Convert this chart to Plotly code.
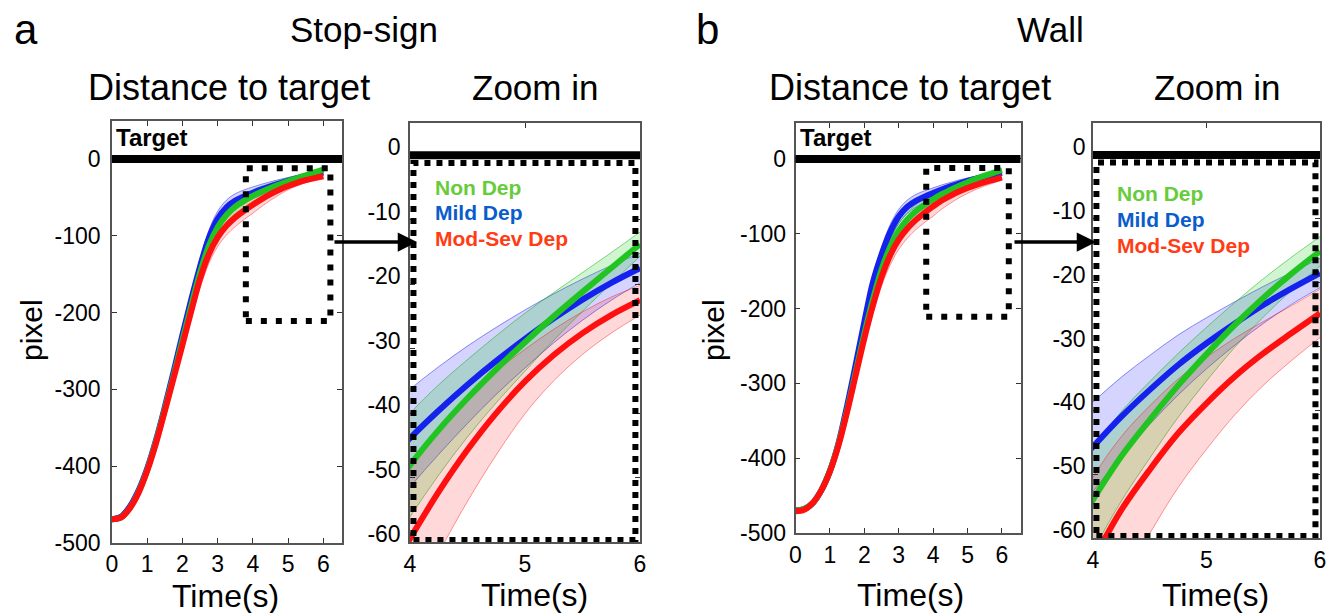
import plotly.graph_objects as go

W, H = 1326, 613
FONT = "Liberation Sans, Arial, sans-serif"

# ---------------- data ----------------
t = [0, 0.25, 0.5, 0.75, 1.0, 1.25, 1.5, 1.75, 2.0, 2.25, 2.5, 2.75, 3.0,
     3.25, 3.5, 3.75, 4.0, 4.25, 4.5, 4.75, 5.0, 5.25, 5.5, 5.75, 6.0]

# Panel a: Stop-sign (mean distance, pixel)
green_a = [-469, -467, -455, -434, -405, -368, -326, -282, -236, -191, -148, -113, -89,
           -73, -62, -54.5, -48.1, -42.6, -37.7, -33.2, -29.0, -25.0, -21.2, -17.5, -13.8]
blue_a = [-469, -466, -453, -432, -403, -366, -323, -277, -229, -183, -140, -103, -78,
          -63, -54.2, -48.7, -43.9, -39.6, -35.6, -31.9, -28.5, -25.3, -22.4, -19.8, -17.5]
red_a = [-469, -467, -455, -435, -406, -370, -328, -285, -242, -198, -156, -124, -102,
         -87, -76, -67.3, -59.5, -52.2, -45.7, -40.0, -35.1, -31.0, -27.6, -24.8, -22.5]
green_a_err = [3, 3, 4, 5, 6, 7, 8, 9, 10, 10, 10, 10, 10, 9.5, 9, 8.5, 8, 7, 6, 5.2, 4.5, 3.7, 3, 2.4, 1.9]
blue_a_err = [3, 3, 4, 5, 6, 7, 8, 9, 10, 10, 10, 10, 10, 9.5, 9, 8.5, 7.6, 6.8, 6, 5.2, 4.5, 3.8, 3.2, 2.7, 2.3]
red_a_err = [3, 3, 4, 5, 6, 7, 8, 9, 10, 11, 12, 12, 12, 12, 12, 11.5, 11, 9.5, 8, 6.5, 5, 4, 3.3, 2.8, 2.3]

# Panel b: Wall
green_b = [-470, -468, -460, -443, -417, -381, -336, -285, -234, -188, -148, -118, -96,
           -81, -70, -61.5, -54, -47.2, -41.5, -36.1, -31.2, -26.6, -22.4, -18.6, -15.1]
blue_b = [-470, -468, -460, -443, -417, -380, -330, -275, -218, -165, -128, -98, -77,
          -64, -56, -50.5, -45.7, -41, -36.8, -32.9, -29.5, -26.4, -23.5, -20.9, -18.5]
red_b = [-471, -469, -460, -443, -418, -383, -338, -289, -240, -196, -158, -129, -108,
         -93, -81.5, -72, -63.5, -55.6, -49.3, -43.6, -38.9, -34.7, -31.1, -27.9, -24.8]
green_b_err = [3, 3, 4, 5, 6, 7, 8, 9, 10, 10, 10, 10, 10, 9.5, 9, 8.5, 8, 7, 6, 5, 4.2, 3.5, 3, 2.6, 2.3]
blue_b_err = [3, 3, 4, 5, 6, 7, 8, 9, 10, 10, 10, 10, 9.5, 9, 8.5, 7.8, 7, 6.2, 5.4, 4.7, 4, 3.4, 2.9, 2.5, 2.3]
red_b_err = [3, 3, 4, 5, 6, 7, 8, 9, 10, 11, 12, 13, 13, 13, 13, 13, 13, 11.5, 10, 8.5, 7.2, 6, 5, 4.3, 3.8]

groups = ["Non Dep", "Mild Dep", "Mod-Sev Dep"]
main_yticks = [-500, -400, -300, -200, -100, 0]
main_ylabels = ["-500", "-400", "-300", "-200", "-100", "0"]
main_xticks = [0, 1, 2, 3, 4, 5, 6]
zoom_yticks = [-60, -50, -40, -30, -20, -10, 0]
zoom_ylabels = ["-60", "-50", "-40", "-30", "-20", "-10", "0"]
zoom_xticks = [4, 5, 6]
target = 0
zoom_box_main = (3.8, 6.2, -211, -12)   # x0, x1, y0, y1 of dotted frame on overview
zoom_box_zoom = (4.03, 5.96, -59.7, -1.2)

line_colors = ["#22c422", "#1522ee", "#ff1010"]
fill_colors = ["rgba(0,200,0,0.18)", "rgba(0,0,255,0.17)", "rgba(255,0,0,0.15)"]
edge_colors = ["rgba(0,170,0,0.6)", "rgba(0,0,230,0.55)", "rgba(255,0,0,0.5)"]
label_colors = ["#66cc3a", "#0a5ccc", "#ff3c14"]


def px_x(p):
    return p / W


def px_y(p):
    return 1 - p / H


fig = go.Figure()

panels = [
    ("x", "y", [green_a, blue_a, red_a], [green_a_err, blue_a_err, red_a_err], 6),
    ("x2", "y2", [green_a, blue_a, red_a], [green_a_err, blue_a_err, red_a_err], 6),
    ("x3", "y3", [green_b, blue_b, red_b], [green_b_err, blue_b_err, red_b_err], 6),
    ("x4", "y4", [green_b, blue_b, red_b], [green_b_err, blue_b_err, red_b_err], 6),
]

draw_order = [1, 0, 2]  # blue, green, red
for xa, ya, means, errs, lw in panels:
    for gi in draw_order:
        m, e = means[gi], errs[gi]
        lo = [a - b for a, b in zip(m, e)]
        hi = [a + b for a, b in zip(m, e)]
        fig.add_trace(go.Scatter(x=t, y=lo, xaxis=xa, yaxis=ya, mode="lines",
                                 line=dict(color=edge_colors[gi], width=0.8, shape="spline"),
                                 showlegend=False, hoverinfo="skip"))
        fig.add_trace(go.Scatter(x=t, y=hi, xaxis=xa, yaxis=ya, mode="lines",
                                 line=dict(color=edge_colors[gi], width=0.8, shape="spline"),
                                 fill="tonexty", fillcolor=fill_colors[gi],
                                 showlegend=False, hoverinfo="skip"))
    for gi in draw_order:
        fig.add_trace(go.Scatter(x=t, y=means[gi], xaxis=xa, yaxis=ya, mode="lines",
                                 name=groups[gi],
                                 line=dict(color=line_colors[gi], width=lw, shape="spline"),
                                 showlegend=False))

axis_common = dict(showline=True, linecolor="#555555", linewidth=1.5, mirror="ticks",
                   ticks="inside", ticklen=5, tickcolor="#333333", tickwidth=1,
                   showgrid=False, zeroline=False, automargin=False,
                   ticklabeloverflow="allow",
                   tickfont=dict(family=FONT, size=23, color="black"))

domains = {
    "a_main": ((112, 342), (121, 543)),
    "a_zoom": ((410, 640), (123, 542)),
    "b_main": ((795.5, 1020.5), (123, 533)),
    "b_zoom": ((1093, 1320), (123, 538)),
}


def xdom(k):
    (x0, x1), _ = domains[k]
    return [px_x(x0), px_x(x1)]


def ydom(k):
    _, (y0, y1) = domains[k]
    return [px_y(y1), px_y(y0)]


layout = dict(
    width=W, height=H, margin=dict(l=0, r=0, t=0, b=0, pad=0, autoexpand=False),
    paper_bgcolor="white", plot_bgcolor="white", showlegend=False,
    xaxis=dict(domain=xdom("a_main"), range=[0, 6.53], anchor="y",
               tickvals=main_xticks, ticklabelstandoff=0, **axis_common),
    yaxis=dict(domain=ydom("a_main"), range=[-500, 49.5], anchor="x",
               tickvals=main_yticks, ticktext=main_ylabels, ticklabelstandoff=5, **axis_common),
    xaxis2=dict(domain=xdom("a_zoom"), range=[4, 6], anchor="y2",
                tickvals=zoom_xticks, ticklabelstandoff=1, **axis_common),
    yaxis2=dict(domain=ydom("a_zoom"), range=[-60, 5], anchor="x2",
                tickvals=zoom_yticks, ticktext=zoom_ylabels, ticklabelstandoff=3,
                ticklabelshift=-8, **axis_common),
    xaxis3=dict(domain=xdom("b_main"), range=[0, 6.54], anchor="y3",
                tickvals=main_xticks, ticklabelstandoff=1, **axis_common),
    yaxis3=dict(domain=ydom("b_main"), range=[-500, 48], anchor="x3",
                tickvals=main_yticks, ticktext=main_ylabels, ticklabelstandoff=3, **axis_common),
    xaxis4=dict(domain=xdom("b_zoom"), range=[4, 6], anchor="y4",
                tickvals=zoom_xticks, ticklabelstandoff=1, **axis_common),
    yaxis4=dict(domain=ydom("b_zoom"), range=[-60, 5], anchor="x4",
                tickvals=zoom_yticks, ticktext=zoom_ylabels, ticklabelstandoff=1,
                ticklabelshift=-8, **axis_common),
)
fig.update_layout(**layout)

shapes = []
for xa, ya in [("x", "y"), ("x2", "y2"), ("x3", "y3"), ("x4", "y4")]:
    shapes.append(dict(type="line", xref=f"{xa} domain", yref=ya, x0=0, x1=1,
                       y0=target, y1=target, line=dict(color="black", width=8), layer="above"))
for xa, ya in [("x", "y"), ("x3", "y3")]:
    x0, x1, y0, y1 = zoom_box_main
    shapes.append(dict(type="rect", xref=xa, yref=ya, x0=x0, x1=x1, y0=y0, y1=y1,
                       line=dict(color="black", width=6, dash="6px,9px"), layer="above"))
for xa, ya in [("x2", "y2"), ("x4", "y4")]:
    x0, x1, y0, y1 = zoom_box_zoom
    shapes.append(dict(type="rect", xref=xa, yref=ya, x0=x0, x1=x1, y0=y0, y1=y1,
                       line=dict(color="black", width=6, dash="6px,6px"), layer="above"))
fig.update_layout(shapes=shapes)

ann = []


def text(s, x, y, size, bold=False, color="black", xanchor="center", angle=0):
    ann.append(dict(text=f"<b>{s}</b>" if bold else s, x=px_x(x), y=px_y(y),
                    xref="paper", yref="paper", showarrow=False, xanchor=xanchor,
                    yanchor="middle", textangle=angle,
                    font=dict(family=FONT, size=size, color=color)))


text("a", 26, 30, 42)
text("b", 707, 30, 42)
text("Stop-sign", 364, 30, 35)
text("Wall", 1050, 30, 35)
text("Distance to target", 229, 87, 36)
text("Zoom in", 535, 87, 35)
text("Distance to target", 910, 87, 36)
text("Zoom in", 1217, 87, 35)
text("Time(s)", 225, 596, 32)
text("Time(s)", 534, 595, 32)
text("Time(s)", 910, 595, 32)
text("Time(s)", 1215, 595, 32)
text("pixel", 31, 330, 30, angle=-90)
text("pixel", 713, 330, 30, angle=-90)
text("Target", 114, 138, 24, bold=True, xanchor="left")
text("Target", 798, 138, 24, bold=True, xanchor="left")

for i, g in enumerate(groups):
    text(g, 433, 187 + 25.5 * i, 21, bold=True, color=label_colors[i], xanchor="left")
    text(g, 1115, 193 + 26 * i, 21, bold=True, color=label_colors[i], xanchor="left")

for tip_x, tail_x in [(417, 333), (1096, 1013)]:
    ann.append(dict(text="", x=px_x(tip_x), y=px_y(242), xref="paper", yref="paper",
                    ax=tail_x - tip_x, ay=0, showarrow=True, arrowhead=2,
                    arrowsize=1.1, arrowwidth=3.5, arrowcolor="black"))

fig.update_layout(annotations=ann)
fig.write_html("out.html", config={"displayModeBar": False},
               post_script="document.body.style.margin='0';document.body.style.overflow='hidden';")
